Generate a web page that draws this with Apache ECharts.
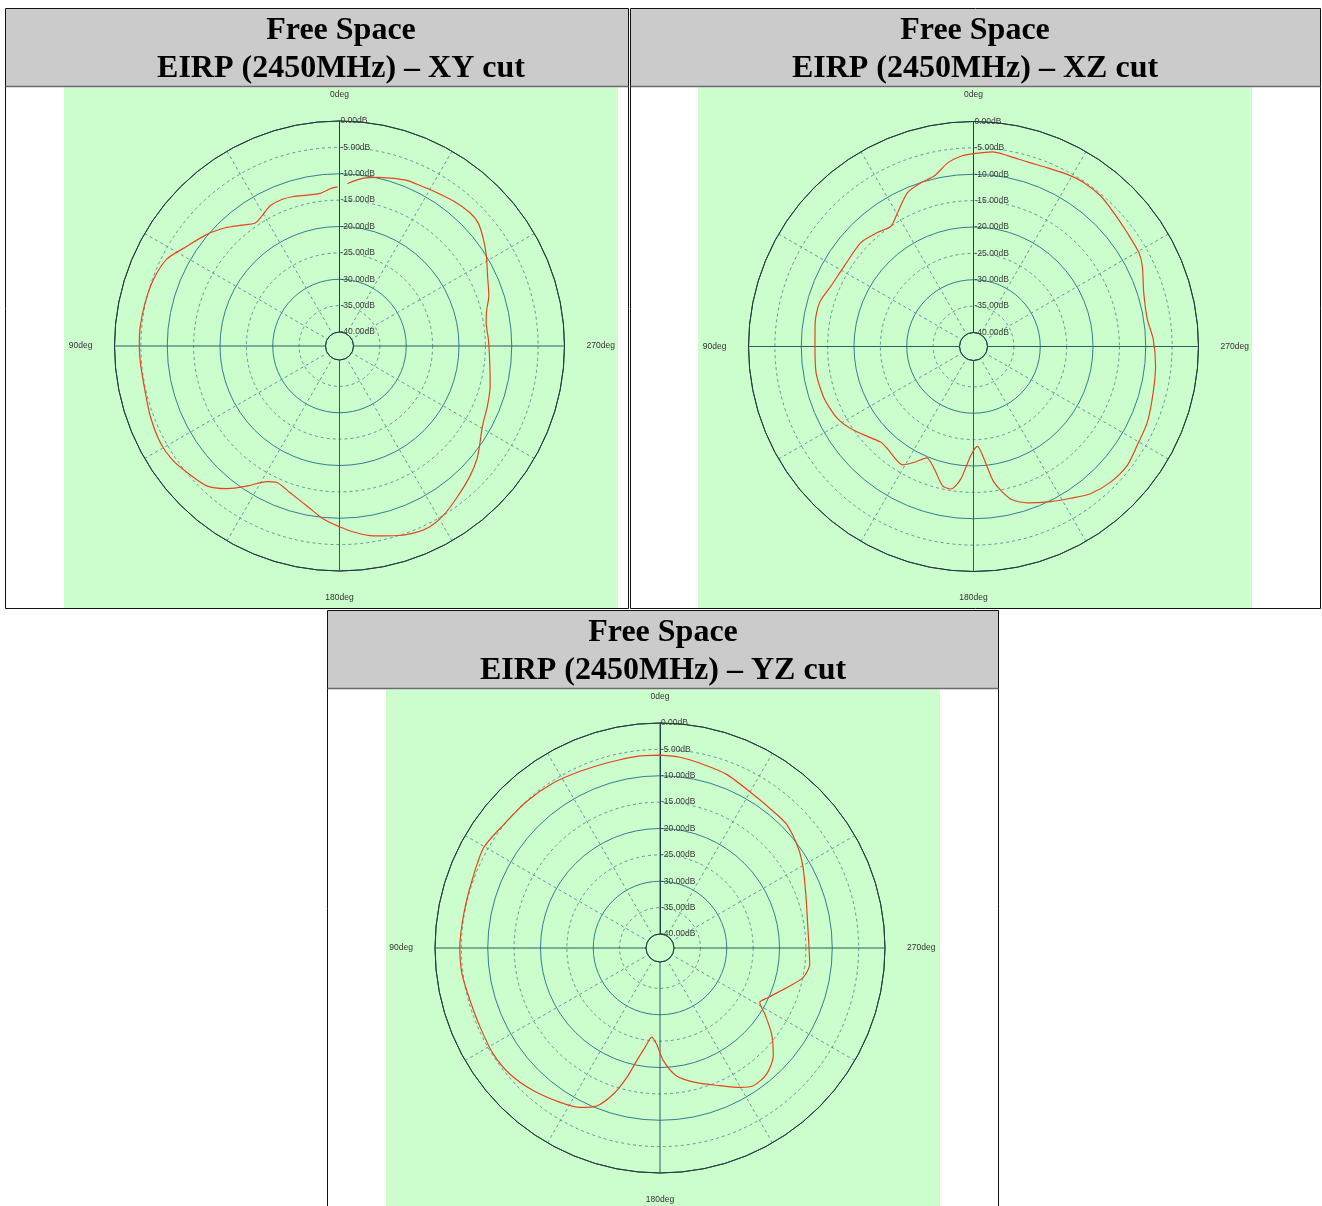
<!DOCTYPE html>
<html><head><meta charset="utf-8">
<script src="https://cdn.jsdelivr.net/npm/echarts@6/dist/echarts.min.js"></script>
<style>html,body{margin:0;padding:0;background:#fff}#c{width:1322px;height:1206px}</style>
</head><body><div id="c"></div>
<script>
// ---------- data ----------
const titleLine1 = 'Free Space';
const cutTitles = ['EIRP (2450MHz) \u2013 XY cut', 'EIRP (2450MHz) \u2013 XZ cut', 'EIRP (2450MHz) \u2013 YZ cut'];
const angleTickLabels = ['0deg', '90deg', '180deg', '270deg'];

const xyAngle = [0.7,3.4,7.2,12.2,17.1,21.5,26.3,30.0,34.4,39.5,44.0,49.9,56.8,63.3,70.3,77.4,84.3,90,95.7,103.5,110.3,118.3,124.1,129.7,136.5,141.7,146.5,151.8,155.4,161.4,168.5,174.7,180,184.3,190.1,195.9,201.6,206.6,211.6,217.7,224.9,230.5,234.5,240.8,248,255.1,263.7,272.6,279,283.4,288.5,295.3,301.5,306.5,311.6,315.6,321.8,328.8,333.3,337.9,343.2,347.5,351.9,357.2];
const xyGain  = [-12.5,-12.8,-13.5,-13.4,-13.0,-12.8,-13.0,-13.8,-14.4,-13.0,-11.5,-9.8,-8.1,-6.0,-5.2,-4.9,-4.7,-4.7,-4.8,-4.8,-4.4,-4.05,-4.3,-5.1,-6.1,-8.2,-10.8,-13.5,-14.2,-13.3,-11.7,-9.7,-8.4,-7.3,-6.1,-5.25,-4.5,-4.35,-5.0,-6.3,-7.7,-8.9,-10.05,-11.6,-12.4,-13.1,-14.0,-14.4,-14.5,-14.0,-12.8,-11.6,-10.0,-8.7,-7.5,-7.3,-7.7,-8.3,-8.6,-8.75,-9.4,-9.9,-10.5,-11.8];

const xzAngle = [0,3.8,8.0,13.0,17.8,23.2,29.6,34.4,40.1,47.3,58.0,67.0,74.1,81.4,90,99.4,109.4,118.1,125.2,136.0,140.1,149.1,152.9,157.3,162.2,167.5,171.0,174.5,178.6,182.3,185.4,188.6,193.7,199.0,206.5,212.6,218.5,225.3,232.2,238.8,246.4,255.7,264,272.3,278.9,287.6,295.5,299.6,306.5,313.6,319.8,326.0,331.4,337.5,343.7,349.9,354.4,360];
const xzGain  = [-6.1,-6.5,-7.5,-9.5,-10.05,-10.9,-13.5,-15.0,-14.4,-13.6,-13.8,-13.3,-12.3,-12.3,-12.6,-12.4,-12.7,-13.5,-15.0,-17.4,-17.3,-16.5,-18.0,-19.75,-18.3,-15.6,-15.3,-17.4,-22.0,-23.7,-21.2,-16.6,-12.9,-11.3,-9.8,-8.5,-7.0,-6.1,-5.8,-6.4,-6.7,-7.5,-7.95,-8.55,-9.3,-8.8,-7.2,-6.6,-6.4,-5.9,-5.3,-5.2,-5.5,-6.0,-6.2,-5.9,-5.6,-6.1];

const yzAngle = [0,6.9,16.1,24.3,32.8,42.2,51.7,60.4,70.4,80.3,90,97.6,105.6,113.9,122.5,130.1,138.5,147.1,153.4,158.2,162.3,165.6,168.3,171.4,174.7,178.0,181.7,187.4,195.2,203.5,209.8,214.1,220.2,226.4,232.3,237.7,241.3,245.4,252.6,258.3,263.8,270,279.1,290.2,299.3,305.9,314.3,320.4,328.7,339,346.7,354,360];
const yzGain  = [-6.1,-6.05,-6.15,-5.9,-5.4,-5.1,-4.9,-4.2,-4.8,-4.9,-4.7,-4.8,-5.3,-5.4,-5.2,-5.5,-6.5,-7.8,-8.85,-10.4,-13.6,-17.3,-20.8,-23.6,-25.7,-24.4,-21.3,-18.2,-16.2,-14.2,-12.2,-11.1,-11.35,-13.0,-15.9,-19.1,-21.1,-20.1,-17.5,-14.95,-14.1,-14.4,-14.3,-13.2,-11.55,-10.3,-9.1,-9.0,-8.6,-7.4,-6.9,-6.3,-6.1];

// ---------- layout / style ----------
const centers = [[339.5, 346], [973.5, 346.5], [660, 948]];
const R_OUT = 225, R_IN = 14;
const T = 'rgba(0,0,0,0)';
const ringSolid = ['#2c5a5a', T, '#33808f', T, '#33808f', T, '#33808f', T, '#23403f'];
const ringDash  = [T, '#5f9a98', T, '#5f9a98', T, '#5f9a98', T, '#5f9a98', T];
const series = [[xyAngle, xyGain], [xzAngle, xzGain], [yzAngle, yzGain]];

const polar = [], angleAxis = [], radiusAxis = [], seriesList = [];
centers.forEach((c, k) => {
  // solid grid + labels
  polar.push({center: c, radius: [R_IN, R_OUT]});
  angleAxis.push({
    polarIndex: 2 * k, type: 'value', min: 0, max: 360, interval: 90,
    startAngle: 90, clockwise: false,
    axisLine: {show: true, lineStyle: {color: '#243f3f', width: 1}},
    axisTick: {show: false},
    axisLabel: {show: true, margin: 22, fontSize: 8.5, color: '#333', fontFamily: 'Liberation Sans',
      formatter: v => angleTickLabels[v / 90] || ''},
    splitLine: {show: true, lineStyle: {color: '#2c5f60', width: 1}},
    minorTick: {show: false, splitNumber: 3},
    minorSplitLine: {show: true, lineStyle: {color: '#5f9a98', width: 1, type: [3, 3]}},
    z: 3
  });
  radiusAxis.push({
    polarIndex: 2 * k, type: 'value', min: -40, max: 0, interval: 5,
    axisLine: {show: true, lineStyle: {color: '#1f4444', width: 1}},
    axisTick: {show: false},
    axisLabel: {show: true, fontSize: 8.5, color: '#3a3a3a', fontFamily: 'Liberation Sans',
      align: 'left', verticalAlign: 'middle', margin: -1,
      formatter: v => v.toFixed(2) + 'dB'},
    splitLine: {show: true, lineStyle: {color: ringSolid, width: 1}},
    z: 3
  });
  // dashed rings
  polar.push({center: c, radius: [R_IN, R_OUT]});
  angleAxis.push({
    polarIndex: 2 * k + 1, type: 'value', min: 0, max: 360, interval: 90,
    startAngle: 90, clockwise: false, show: true,
    axisLine: {show: false}, axisTick: {show: false}, axisLabel: {show: false}, splitLine: {show: false}
  });
  radiusAxis.push({
    polarIndex: 2 * k + 1, type: 'value', min: -40, max: 0, interval: 5,
    axisLine: {show: false}, axisTick: {show: false}, axisLabel: {show: false},
    splitLine: {show: true, lineStyle: {color: ringDash, width: 1, type: [3, 3]}},
    z: 2
  });
  const [ang, gain] = series[k];
  seriesList.push({
    type: 'line', coordinateSystem: 'polar', polarIndex: 2 * k,
    data: ang.map((a, i) => [gain[i], a]),
    showSymbol: false, smooth: 0.25,
    lineStyle: {color: '#e2471f', width: 1.2},
    z: 5
  });
});

const panels = [
  {x: 5.5, y: 8.5, w: 623, h: 600, hdr: 77, gx: 64, gw: 554, tx: 341},
  {x: 630.5, y: 8.5, w: 690, h: 600, hdr: 77, gx: 698, gw: 554, tx: 975},
  {x: 327.5, y: 610.5, w: 671, h: 620, hdr: 77, gx: 386, gw: 554, tx: 663}
];
const graphic = [];
panels.forEach((p, k) => {
  graphic.push({type: 'rect', z: -20, shape: {x: p.x, y: p.y, width: p.w, height: p.h},
    style: {fill: '#fff', stroke: '#111', lineWidth: 1}});
  graphic.push({type: 'rect', z: -19, shape: {x: p.x + 0.5, y: p.y + 0.5, width: p.w - 1, height: p.hdr},
    style: {fill: '#cbcbcb'}});
  graphic.push({type: 'line', z: -18, shape: {x1: p.x, y1: p.y + p.hdr + 1, x2: p.x + p.w, y2: p.y + p.hdr + 1},
    style: {stroke: '#6a6a6a', lineWidth: 1.5}});
  graphic.push({type: 'rect', z: -19, shape: {x: p.gx, y: p.y + p.hdr + 2, width: p.gw, height: p.h - p.hdr - 2.5},
    style: {fill: '#ccfdcc'}});
  graphic.push({type: 'text', z: 10, x: p.tx, y: p.y + 22.5,
    style: {text: titleLine1, fill: '#000', textAlign: 'center', textVerticalAlign: 'middle',
      font: 'bold 32px "Liberation Serif", "Times New Roman", serif'}});
  graphic.push({type: 'text', z: 10, x: p.tx, y: p.y + 60,
    style: {text: cutTitles[k], fill: '#000', textAlign: 'center', textVerticalAlign: 'middle',
      font: 'bold 32px "Liberation Serif", "Times New Roman", serif'}});
});

const chart = echarts.init(document.getElementById('c'), null, {renderer: 'canvas'});
chart.setOption({
  animation: false,
  backgroundColor: '#fff',
  graphic: graphic,
  polar: polar,
  angleAxis: angleAxis,
  radiusAxis: radiusAxis,
  series: seriesList
});
</script></body></html>
